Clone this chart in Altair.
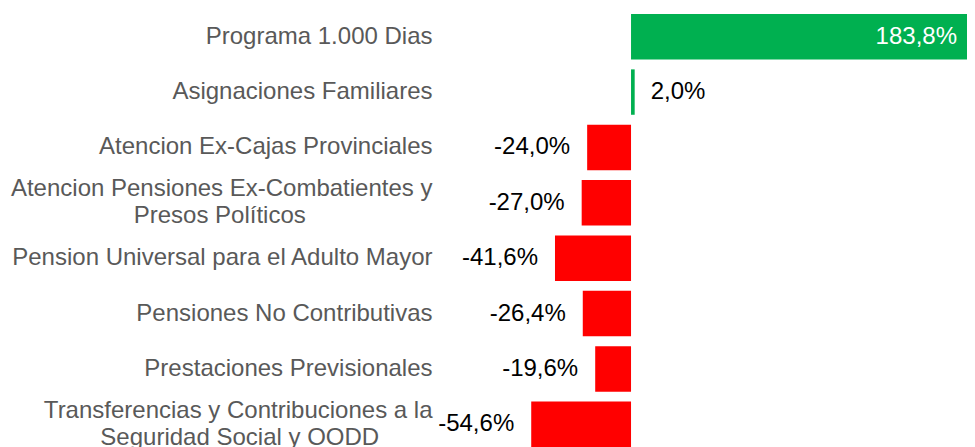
import altair as alt
import pandas as pd

NB = "\u00a0"
ZW = "\u200b"
categories = [
    "Programa 1.000 Dias",
    "Asignaciones Familiares",
    "Atencion Ex-Cajas Provinciales",
    "Atencion Pensiones Ex-Combatientes y\nPresos Políticos" + NB * 19 + ZW,
    "Pension Universal para el Adulto Mayor",
    "Pensiones No Contributivas",
    "Prestaciones Previsionales",
    "Transferencias y Contribuciones a la\nSeguridad Social y OODD" + NB * 8 + ZW,
]
values = [183.8, 2.0, -24.0, -27.0, -41.6, -26.4, -19.6, -54.6]

df = pd.DataFrame({"category": categories, "value": values})

FONT = "Liberation Sans, Arial, sans-serif"

base = alt.Chart(df).transform_calculate(
    label="(datum.value < 0 ? '-' : '') + replace(format(abs(datum.value), '.1f'), '.', ',') + '%'"
)

y_enc = alt.Y(
    "category:N",
    sort=categories,
    scale=alt.Scale(paddingInner=0.18, paddingOuter=0),
    axis=alt.Axis(
        title=None,
        domain=False,
        ticks=False,
        tickSize=0,
        labelPadding=6,
        labelFontSize=24,
        labelColor="#595959",
        labelFont=FONT,
        labelLimit=1000,
        labelLineHeight=27,
        labelOffset=alt.condition("indexof(datum.label, '\\n') >= 0", alt.value(-13.5), alt.value(0)),
        labelExpr="split(datum.label, '\\n')",
    ),
)
x_enc = alt.X(
    "value:Q",
    scale=alt.Scale(domain=[-105.6, 183.8], nice=False, zero=False),
    axis=None,
)

bars = base.mark_bar().encode(
    y=y_enc,
    x=x_enc,
    x2=alt.datum(0),
    color=alt.condition("datum.value >= 0", alt.value("#00B050"), alt.value("#FF0000")),
)

neg_text = base.transform_filter("datum.value < 0").mark_text(
    align="right", baseline="middle", dx=-17, fontSize=24, font=FONT, color="#000000"
).encode(y=alt.Y("category:N", sort=categories), x="value:Q", text="label:N")

small_pos_text = base.transform_filter("datum.value >= 0 && datum.value < 50").mark_text(
    align="left", baseline="middle", dx=16, fontSize=24, font=FONT, color="#000000"
).encode(y=alt.Y("category:N", sort=categories), x="value:Q", text="label:N")

big_pos_text = base.transform_filter("datum.value >= 50").mark_text(
    align="right", baseline="middle", dx=-10, fontSize=24, font=FONT, color="#FFFFFF"
).encode(y=alt.Y("category:N", sort=categories), x="value:Q", text="label:N")

chart = (
    alt.layer(bars, neg_text, small_pos_text, big_pos_text)
    .properties(
        width=529,
        height=433,
        autosize=alt.AutoSizeParams(type="none"),
        padding={"left": 430, "right": 0, "top": 6, "bottom": 0},
        background="#FFFFFF",
    )
    .configure_view(strokeWidth=0, stroke="transparent")
)

chart.save("out.html", embed_options={"renderer": "svg", "actions": False})
